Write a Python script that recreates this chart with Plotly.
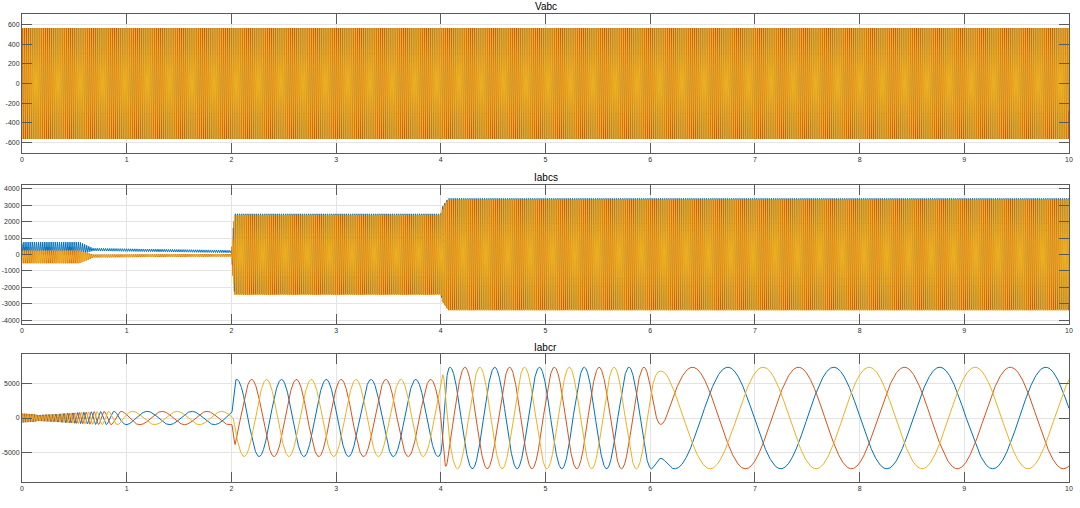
"""Scope traces of a doubly fed machine: grid voltage, stator and rotor currents"""

import numpy as np
import plotly.graph_objects as go

# ---- values ----
sample_rate = 2000  # Hz
stop_time = 10.0

phase_colors = ["#0072BD", "#D95319", "#EDB120"]
phase_shift_deg = [0, -120, 120]

# Vabc: constant 50 Hz grid voltage
vabc_peak = 563.0
grid_freq = 50.0

# Iabcs: 50 Hz stator current, envelope and dc-offset knots
iabcs_knot_t = [0, 0.55, 0.68, 2.0, 2.03, 4.0, 4.015, 4.07, 10]
iabcs_amp = [380, 380, 80, 75, 2430, 2430, 2850, 3370, 3370]
iabcs_offset_a = [375, 375, 300, 180, 40, 40, 40, 40, 40]
iabcs_offset_bc = [-150, -150, -95, -45, -20, -20, -20, -20, -20]

# Iabcr: rotor current, envelope knots and slip-frequency knots
iabcr_amp_t = [0, 0.1, 0.15, 0.3, 0.5, 0.7, 1.0, 2.005, 2.035, 3.99, 4.06, 10]
iabcr_amp = [620, 560, 420, 520, 750, 930, 950, 950, 5520, 5520, 7270, 7270]
iabcr_freq_t = [0, 0.3, 0.6, 0.8, 0.9, 1.0, 1.1, 3.98, 4.02, 4.09, 6.01, 6.10, 6.16, 10]
iabcr_freq = [45, 30, 15, 8, 5, 3, 2.34, 2.34, 6.6, 2.34, 2.34, 0, -0.988, -0.988]
iabcr_crest_a = 2.051  # time of a phase-a crest

x_ticks = list(range(0, 11))
vabc_ticks = [-600, -400, -200, 0, 200, 400, 600]
iabcs_ticks = [-4000, -3000, -2000, -1000, 0, 1000, 2000, 3000, 4000]
iabcr_ticks = [-5000, 0, 5000]

titles = ["Vabc", "Iabcs", "Iabcr"]
y_ranges = [[-706, 706], [-4220, 4220], [-9160, 9160]]

# ---- waveforms built from the knots ----
t = np.linspace(0, stop_time, int(stop_time * sample_rate) + 1)
shifts = np.radians(phase_shift_deg)

grid_angle = 2 * np.pi * grid_freq * t
vabc = [vabc_peak * np.cos(grid_angle + s) for s in shifts]

is_amp = np.interp(t, iabcs_knot_t, iabcs_amp)
is_off = [np.interp(t, iabcs_knot_t, iabcs_offset_a),
          np.interp(t, iabcs_knot_t, iabcs_offset_bc),
          np.interp(t, iabcs_knot_t, iabcs_offset_bc)]
iabcs = [is_off[k] + is_amp * np.cos(grid_angle + 0.6 + s) for k, s in enumerate(shifts)]

slip = np.interp(t, iabcr_freq_t, iabcr_freq)
rotor_angle = np.concatenate([[0], np.cumsum((slip[1:] + slip[:-1]) / 2 / sample_rate)]) * 2 * np.pi
rotor_angle -= np.interp(iabcr_crest_a, t, rotor_angle)
ir_amp = np.interp(t, iabcr_amp_t, iabcr_amp)
iabcr = [ir_amp * np.cos(rotor_angle + s) for s in shifts]

signals = [vabc, iabcs, iabcr]
y_ticks = [vabc_ticks, iabcs_ticks, iabcr_ticks]

# ---- figure ----
W, H = 1080, 508
x_dom = [22 / W, 1069 / W]
panels_px = [(14, 153), (185, 324), (354, 482)]
title_px = [7, 177, 347]

figure = go.Figure()
layout = {
    "width": W,
    "height": H,
    "margin": {"l": 0, "r": 0, "t": 0, "b": 0, "autoexpand": False},
    "paper_bgcolor": "white",
    "plot_bgcolor": "white",
    "showlegend": False,
    "font": {"family": "Liberation Sans, Arial, sans-serif", "size": 7, "color": "#303030"},
    "annotations": [],
}

axis_style = {
    "showline": True,
    "linecolor": "#5a5a5a",
    "linewidth": 1,
    "mirror": "ticks",
    "ticks": "inside",
    "ticklen": 10,
    "tickwidth": 1,
    "tickcolor": "#5a5a5a",
    "tickfont": {"size": 7, "color": "#303030"},
    "showgrid": True,
    "gridcolor": "#e4e4e4",
    "gridwidth": 1,
    "zeroline": False,
    "automargin": False,
}

for i, (top, bottom) in enumerate(panels_px):
    n = "" if i == 0 else str(i + 1)
    for k in range(3):
        figure.add_trace(go.Scatter(
            x=t,
            y=signals[i][k],
            mode="lines",
            line={"color": phase_colors[k], "width": 1},
            hoverinfo="skip",
            xaxis="x" + n,
            yaxis="y" + n,
        ))
    layout["xaxis" + n] = {
        **axis_style,
        "domain": x_dom,
        "anchor": "y" + n,
        "range": [0, stop_time],
        "tickvals": x_ticks,
        "ticktext": [str(v) for v in x_ticks],
        "ticklabeloverflow": "allow",
    }
    layout["yaxis" + n] = {
        **axis_style,
        "domain": [1 - bottom / H, 1 - top / H],
        "anchor": "x" + n,
        "range": y_ranges[i],
        "tickvals": y_ticks[i],
        "ticktext": [str(v) for v in y_ticks[i]],
    }
    layout["annotations"].append({
        "text": titles[i],
        "xref": "paper",
        "yref": "paper",
        "x": (x_dom[0] + x_dom[1]) / 2,
        "y": 1 - title_px[i] / H,
        "xanchor": "center",
        "yanchor": "middle",
        "showarrow": False,
        "font": {"size": 10, "color": "#000000"},
    })

figure.update_layout(layout)
# the page body keeps its default 8px margin otherwise
figure.write_html(
    "out.html",
    config={"displayModeBar": False},
    post_script="document.body.style.margin='0';",
)
